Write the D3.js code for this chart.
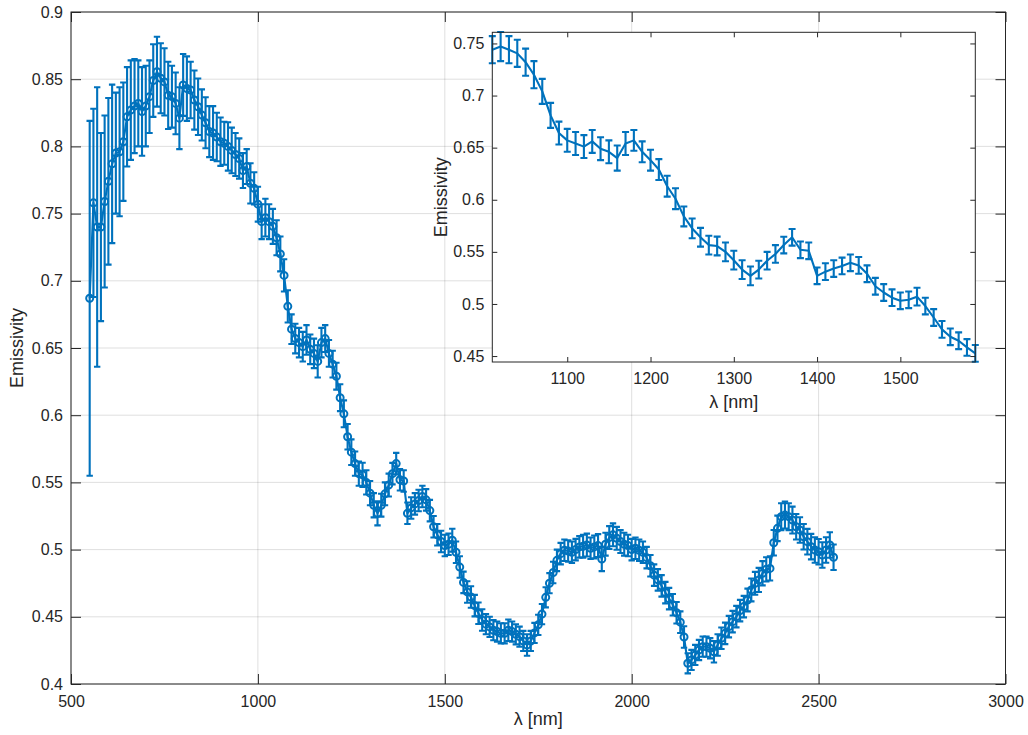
<!DOCTYPE html>
<html>
<head>
<meta charset="utf-8">
<script src="https://cdn.jsdelivr.net/npm/d3@7"></script>
<style>
body { margin: 0; background: #fff; }
svg { font-family: "Liberation Sans", Arial, Helvetica, sans-serif; }
.tick text { font-size: 16px; fill: #262626; }
.label { font-size: 18px; fill: #262626; }
</style>
</head>
<body>
<svg class="emissivity" width="1028" height="735"></svg>
<script>
/**********************
 Data
**********************/
var wavelength = [
  550, 560, 570, 580, 590, 600, 610, 620, 630, 640,
  650, 660, 670, 680, 690, 700, 710, 720, 730, 740,
  750, 760, 770, 780, 790, 800, 810, 820, 830, 840,
  850, 860, 870, 880, 890, 900, 910, 920, 930, 940,
  950, 960, 970, 980, 990, 1000, 1010, 1020, 1030, 1040,
  1050, 1060, 1070, 1080, 1090, 1100, 1110, 1120, 1130, 1140,
  1150, 1160, 1170, 1180, 1190, 1200, 1210, 1220, 1230, 1240,
  1250, 1260, 1270, 1280, 1290, 1300, 1310, 1320, 1330, 1340,
  1350, 1360, 1370, 1380, 1390, 1400, 1410, 1420, 1430, 1440,
  1450, 1460, 1470, 1480, 1490, 1500, 1510, 1520, 1530, 1540,
  1550, 1560, 1570, 1580, 1590, 1600, 1610, 1620, 1630, 1640,
  1650, 1660, 1670, 1680, 1690, 1700, 1710, 1720, 1730, 1740,
  1750, 1760, 1770, 1780, 1790, 1800, 1810, 1820, 1830, 1840,
  1850, 1860, 1870, 1880, 1890, 1900, 1910, 1920, 1930, 1940,
  1950, 1960, 1970, 1980, 1990, 2000, 2010, 2020, 2030, 2040,
  2050, 2060, 2070, 2080, 2090, 2100, 2110, 2120, 2130, 2140,
  2150, 2160, 2170, 2180, 2190, 2200, 2210, 2220, 2230, 2240,
  2250, 2260, 2270, 2280, 2290, 2300, 2310, 2320, 2330, 2340,
  2350, 2360, 2370, 2380, 2390, 2400, 2410, 2420, 2430, 2440,
  2450, 2460, 2470, 2480, 2490, 2500, 2510, 2520, 2530, 2540
];

var emissivity = [
  0.687, 0.758, 0.740, 0.740, 0.759, 0.774, 0.787, 0.795, 0.796, 0.8035,
  0.822, 0.827, 0.830, 0.832, 0.826, 0.830, 0.837, 0.849, 0.8556, 0.8507,
  0.848, 0.838, 0.837, 0.832, 0.821, 0.8457, 0.843, 0.842, 0.8345, 0.8295,
  0.8234, 0.8176, 0.811, 0.810, 0.807, 0.8035, 0.8023, 0.800, 0.797, 0.794,
  0.791, 0.782, 0.785, 0.7725, 0.7688, 0.757, 0.744, 0.747, 0.744, 0.7405,
  0.732, 0.720, 0.704, 0.681, 0.664, 0.657, 0.654, 0.651, 0.656, 0.649,
  0.646, 0.640, 0.654, 0.657, 0.646, 0.638, 0.629, 0.613, 0.601, 0.584,
  0.5725, 0.564, 0.5565, 0.5556, 0.550, 0.542, 0.533, 0.527, 0.533, 0.5415,
  0.548, 0.5565, 0.564, 0.552, 0.551, 0.527, 0.531, 0.534, 0.5365, 0.5395,
  0.537, 0.529, 0.517, 0.511, 0.506, 0.503, 0.504, 0.507, 0.498, 0.487,
  0.4756, 0.4685, 0.4647, 0.4583, 0.4526, 0.4476, 0.4445, 0.4425, 0.440, 0.439,
  0.4377, 0.4377, 0.440, 0.439, 0.437, 0.4352, 0.432, 0.429, 0.432, 0.438,
  0.444, 0.452, 0.4645, 0.475, 0.483, 0.492, 0.497, 0.4995, 0.499, 0.498,
  0.500, 0.502, 0.5025, 0.5034, 0.501, 0.502, 0.503, 0.493, 0.504, 0.509,
  0.511, 0.5084, 0.506, 0.504, 0.503, 0.500, 0.501, 0.4995, 0.498, 0.494,
  0.488, 0.481, 0.4775, 0.473, 0.468, 0.4635, 0.459, 0.453, 0.446, 0.435,
  0.4154, 0.4179, 0.4216, 0.4253, 0.4278, 0.4278, 0.4266, 0.424, 0.429, 0.434,
  0.4377, 0.4427, 0.4464, 0.4501, 0.4546, 0.4576, 0.4625, 0.470, 0.4749, 0.4774,
  0.4824, 0.4853, 0.486, 0.5051, 0.5158, 0.5245, 0.5257, 0.5245, 0.522, 0.517,
  0.5146, 0.5096, 0.5059, 0.5022, 0.4997, 0.4984, 0.496, 0.4997, 0.5034, 0.4943
];

var emissivityErr = [
  0.132, 0.070, 0.104, 0.070, 0.064, 0.062, 0.059, 0.045, 0.048, 0.044,
  0.037, 0.037, 0.035, 0.032, 0.033, 0.030, 0.027, 0.027, 0.026, 0.026,
  0.025, 0.025, 0.023, 0.023, 0.023, 0.023, 0.024, 0.021, 0.022, 0.021,
  0.019, 0.019, 0.019, 0.020, 0.018, 0.018, 0.016, 0.018, 0.017, 0.016,
  0.015, 0.013, 0.013, 0.015, 0.012, 0.013, 0.013, 0.014, 0.013, 0.013,
  0.013, 0.013, 0.012, 0.012, 0.011, 0.011, 0.011, 0.011, 0.011, 0.011,
  0.011, 0.012, 0.011, 0.010, 0.010, 0.010, 0.010, 0.010, 0.010, 0.0095,
  0.0095, 0.009, 0.009, 0.009, 0.009, 0.009, 0.009, 0.009, 0.0085, 0.0085,
  0.0085, 0.008, 0.008, 0.008, 0.008, 0.008, 0.008, 0.008, 0.008, 0.008,
  0.008, 0.008, 0.008, 0.008, 0.008, 0.008, 0.008, 0.0085, 0.008, 0.008,
  0.008, 0.008, 0.008, 0.008, 0.008, 0.008, 0.0075, 0.0075, 0.0075, 0.0075,
  0.0075, 0.0075, 0.008, 0.0075, 0.0075, 0.0075, 0.0075, 0.008, 0.0075, 0.0075,
  0.0075, 0.0075, 0.0075, 0.0075, 0.008, 0.008, 0.008, 0.008, 0.008, 0.008,
  0.008, 0.008, 0.0085, 0.0085, 0.008, 0.0085, 0.0085, 0.009, 0.0085, 0.0085,
  0.0085, 0.0085, 0.0085, 0.0085, 0.008, 0.008, 0.008, 0.008, 0.008, 0.008,
  0.008, 0.008, 0.008, 0.008, 0.008, 0.008, 0.008, 0.008, 0.008, 0.008,
  0.0075, 0.0075, 0.0075, 0.0075, 0.0075, 0.0075, 0.0075, 0.008, 0.008, 0.008,
  0.008, 0.008, 0.008, 0.008, 0.008, 0.008, 0.0085, 0.0085, 0.0085, 0.009,
  0.009, 0.009, 0.009, 0.0095, 0.0095, 0.010, 0.010, 0.010, 0.010, 0.0095,
  0.0095, 0.0095, 0.0095, 0.0095, 0.0095, 0.0095, 0.0095, 0.0095, 0.0095, 0.0095
];

var mainXTicks = [500, 1000, 1500, 2000, 2500, 3000];
var mainYTicks = [0.4, 0.45, 0.5, 0.55, 0.6, 0.65, 0.7, 0.75, 0.8, 0.85, 0.9];
var insetXTicks = [1100, 1200, 1300, 1400, 1500];
var insetYTicks = [0.45, 0.5, 0.55, 0.6, 0.65, 0.7, 0.75];
var insetXDomain = [1010, 1590];
var insetYDomain = [0.4443, 0.7607];

var blue = '#0072bd';
var axisColor = '#262626';

var svg = d3.select('svg.emissivity');

var points = wavelength.map(function(w, i) {
  return {w: w, e: emissivity[i], err: emissivityErr[i]};
});
var insetPoints = points.filter(function(d) {
  return d.w >= insetXDomain[0] && d.w <= insetXDomain[1];
});

/**********************
 Helpers
**********************/
function drawGrid(g, x, y, xTicks, yTicks) {
  var x0 = x.range()[0], x1 = x.range()[1];
  var y0 = y.range()[0], y1 = y.range()[1];
  g.append('g').selectAll('line.gx')
    .data(xTicks).enter().append('line')
    .attr('x1', function(d) { return x(d); })
    .attr('x2', function(d) { return x(d); })
    .attr('y1', y0).attr('y2', y1)
    .attr('stroke', axisColor).attr('stroke-opacity', 0.15);
  g.append('g').selectAll('line.gy')
    .data(yTicks).enter().append('line')
    .attr('y1', function(d) { return y(d); })
    .attr('y2', function(d) { return y(d); })
    .attr('x1', x0).attr('x2', x1)
    .attr('stroke', axisColor).attr('stroke-opacity', 0.15);
}

function drawAxes(g, x, y, xTicks, yTicks, tick, padX, padY) {
  var x0 = x.range()[0], x1 = x.range()[1];
  var y0 = y.range()[0], y1 = y.range()[1];
  var fmt = function(d) { return String(d); };

  g.append('g').attr('transform', 'translate(0,' + y0 + ')')
    .call(d3.axisBottom(x).tickValues(xTicks).tickSize(-tick).tickPadding(padX).tickFormat(fmt));
  g.append('g').attr('transform', 'translate(0,' + y1 + ')')
    .call(d3.axisTop(x).tickValues(xTicks).tickSize(-tick).tickFormat(''));
  g.append('g').attr('transform', 'translate(' + x0 + ',0)')
    .call(d3.axisLeft(y).tickValues(yTicks).tickSize(-tick).tickPadding(padY).tickFormat(fmt));
  g.append('g').attr('transform', 'translate(' + x1 + ',0)')
    .call(d3.axisRight(y).tickValues(yTicks).tickSize(-tick).tickFormat(''));

  g.selectAll('.domain').remove();
  g.selectAll('.tick line').attr('stroke', axisColor);

  g.append('rect')
    .attr('x', x0).attr('y', y1)
    .attr('width', x1 - x0).attr('height', y0 - y1)
    .attr('fill', 'none').attr('stroke', axisColor);
}

function drawSeries(g, data, x, y, cap, markers) {
  var bars = g.append('g').attr('stroke', blue).attr('stroke-width', 2.1).attr('fill', 'none');
  bars.selectAll('path')
    .data(data).enter().append('path')
    .attr('d', function(d) {
      var cx = x(d.w), yt = y(d.e + d.err), yb = y(d.e - d.err);
      return 'M' + cx + ',' + yt + 'V' + yb +
             'M' + (cx - cap) + ',' + yt + 'H' + (cx + cap) +
             'M' + (cx - cap) + ',' + yb + 'H' + (cx + cap);
    });

  var line = d3.line()
    .x(function(d) { return x(d.w); })
    .y(function(d) { return y(d.e); });

  g.append('path')
    .datum(data)
    .attr('d', line)
    .attr('fill', 'none')
    .attr('stroke', blue)
    .attr('stroke-width', 2.1)
    .attr('stroke-linejoin', 'round');

  if (markers) {
    g.append('g').selectAll('circle')
      .data(data).enter().append('circle')
      .attr('cx', function(d) { return x(d.w); })
      .attr('cy', function(d) { return y(d.e); })
      .attr('r', 3.5)
      .attr('fill', 'none')
      .attr('stroke', blue)
      .attr('stroke-width', 2);
  }
}

/**********************
 Main axes
**********************/
var xMain = d3.scaleLinear().domain([500, 3000]).range([71, 1005.5]);
var yMain = d3.scaleLinear().domain([0.4, 0.9]).range([684, 12]);

var mainG = svg.append('g').attr('class', 'main');
drawGrid(mainG, xMain, yMain, mainXTicks, mainYTicks);
drawSeries(mainG, points, xMain, yMain, 3.2, true);
drawAxes(mainG, xMain, yMain, mainXTicks, mainYTicks, 10, 12, 8);

mainG.append('text').attr('class', 'label')
  .attr('x', (71 + 1005.5) / 2).attr('y', 725)
  .attr('text-anchor', 'middle')
  .text('λ [nm]');
mainG.append('text').attr('class', 'label')
  .attr('transform', 'translate(23,' + (12 + 684) / 2 + ') rotate(-90)')
  .attr('text-anchor', 'middle')
  .text('Emissivity');

/**********************
 Inset axes
**********************/
var xInset = d3.scaleLinear().domain(insetXDomain).range([492.3, 975.3]);
var yInset = d3.scaleLinear().domain(insetYDomain).range([362, 32.3]);

var insetG = svg.append('g').attr('class', 'inset');
insetG.append('rect')
  .attr('x', 492.3).attr('y', 32.3)
  .attr('width', 975.3 - 492.3).attr('height', 362 - 32.3)
  .attr('fill', '#fff');
drawSeries(insetG, insetPoints, xInset, yInset, 3.5, false);
drawAxes(insetG, xInset, yInset, insetXTicks, insetYTicks, 5, 11, 8);

insetG.append('text').attr('class', 'label')
  .attr('x', (492.3 + 975.3) / 2).attr('y', 408)
  .attr('text-anchor', 'middle')
  .text('λ [nm]');
insetG.append('text').attr('class', 'label')
  .attr('transform', 'translate(447,' + (32.3 + 362) / 2 + ') rotate(-90)')
  .attr('text-anchor', 'middle')
  .text('Emissivity');
</script>
</body>
</html>
